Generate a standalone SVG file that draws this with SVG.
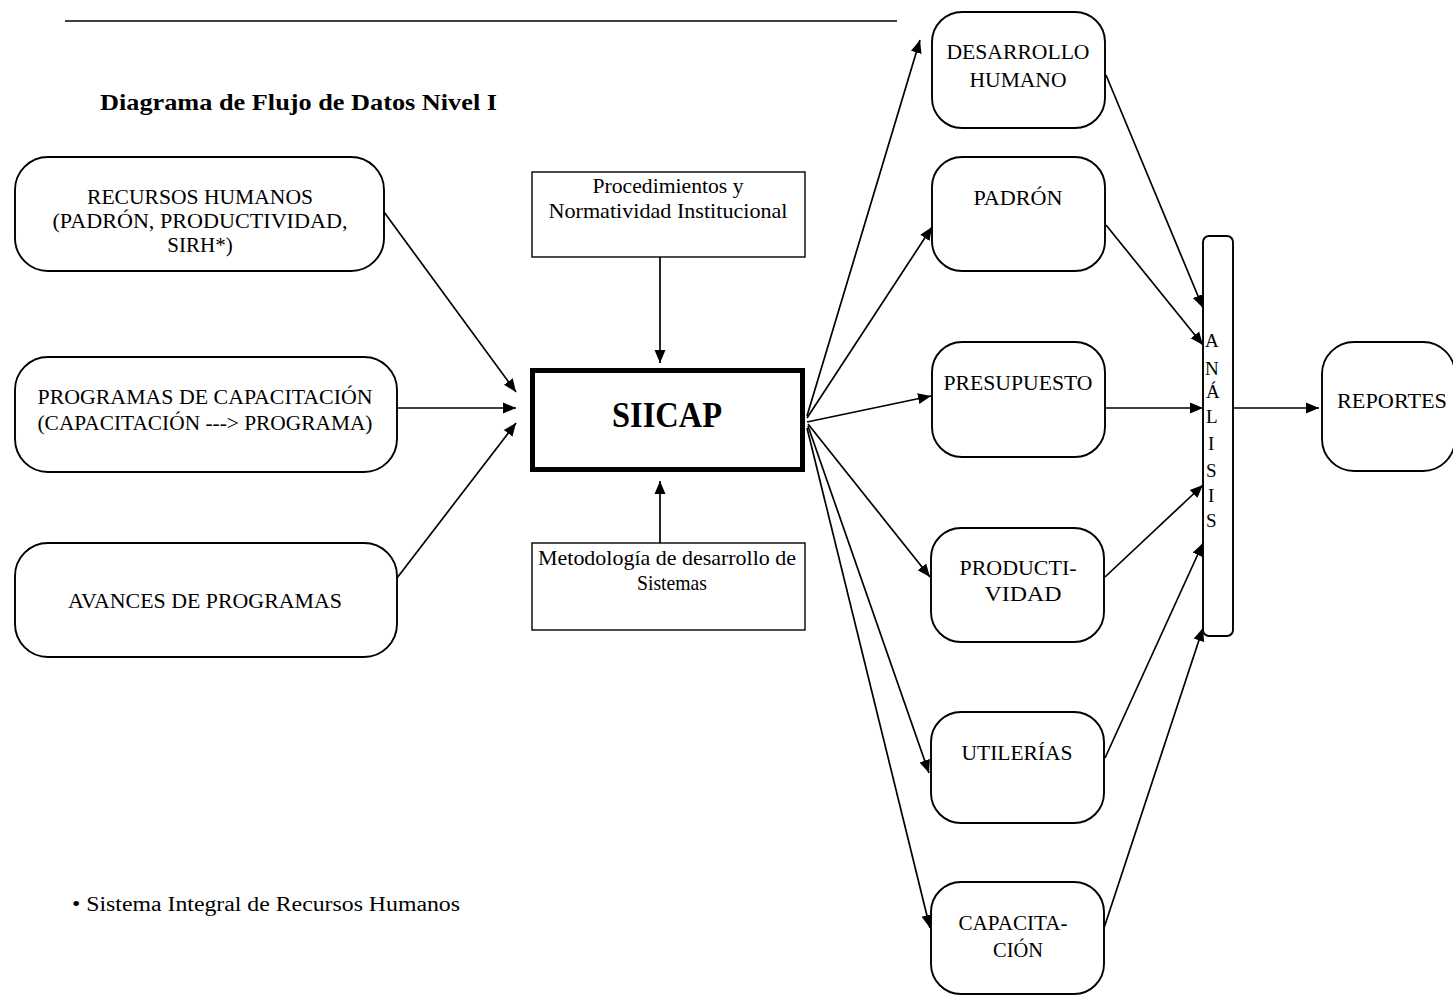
<svg xmlns="http://www.w3.org/2000/svg" width="1453" height="995" viewBox="0 0 1453 995">
<style>
.box{fill:#fff;stroke:#000;stroke-width:1.9}
.sq{fill:#fff;stroke:#000;stroke-width:1.4}
.t{font-family:"Liberation Serif",serif;fill:#000;text-anchor:middle}
.c{stroke:#000;stroke-width:1.7;fill:none;marker-end:url(#ah)}
</style>
<defs>
<marker id="ah" markerUnits="userSpaceOnUse" markerWidth="14" markerHeight="12" refX="13" refY="6" orient="auto">
<path d="M0,0.5 L13,6 L0,11.5 Z" fill="#000"/>
</marker>
</defs>
<rect width="1453" height="995" fill="#fff"/>
<line x1="65" y1="21" x2="897" y2="21" stroke="#000" stroke-width="1.7"/>
<text class="t" x="100" y="110" style="text-anchor:start;font-weight:bold;font-size:24px" textLength="397" lengthAdjust="spacingAndGlyphs">Diagrama de Flujo de Datos Nivel I</text>

<g id="recursos-humanos">
<rect class="box" x="15" y="157" width="369" height="114" rx="33"/>
<text class="t" x="200" y="204" font-size="21" textLength="226" lengthAdjust="spacingAndGlyphs">RECURSOS HUMANOS</text>
<text class="t" x="200" y="228" font-size="21" textLength="295" lengthAdjust="spacingAndGlyphs">(PADRÓN, PRODUCTIVIDAD,</text>
<text class="t" x="200" y="252" font-size="21">SIRH*)</text>
</g>
<g id="programas-capacitacion">
<rect class="box" x="15" y="357" width="382" height="115" rx="33"/>
<text class="t" x="205" y="404" font-size="21" textLength="335" lengthAdjust="spacingAndGlyphs">PROGRAMAS DE CAPACITACIÓN</text>
<text class="t" x="205" y="430" font-size="21" textLength="335" lengthAdjust="spacingAndGlyphs">(CAPACITACIÓN ---&gt; PROGRAMA)</text>
</g>
<g id="avances-programas">
<rect class="box" x="15" y="543" width="382" height="114" rx="33"/>
<text class="t" x="205" y="608" font-size="21" textLength="274" lengthAdjust="spacingAndGlyphs">AVANCES DE PROGRAMAS</text>
</g>

<g id="procedimientos">
<rect class="sq" x="532" y="172" width="273" height="85"/>
<text class="t" x="668" y="193" font-size="21" textLength="151" lengthAdjust="spacingAndGlyphs">Procedimientos y</text>
<text class="t" x="668" y="218" font-size="21" textLength="239" lengthAdjust="spacingAndGlyphs">Normatividad Institucional</text>
</g>
<g id="siicap">
<rect x="532.5" y="370.5" width="270" height="99" fill="#fff" stroke="#000" stroke-width="5"/>
<text class="t" x="667" y="427" font-size="35" font-weight="bold" textLength="110" lengthAdjust="spacingAndGlyphs">SIICAP</text>
</g>
<g id="metodologia">
<rect class="sq" x="532" y="543" width="273" height="87"/>
<text class="t" x="667" y="565" font-size="21" textLength="258" lengthAdjust="spacingAndGlyphs">Metodología de desarrollo de</text>
<text class="t" x="672" y="590" font-size="21" textLength="70" lengthAdjust="spacingAndGlyphs">Sistemas</text>
</g>

<g id="desarrollo-humano">
<rect class="box" x="932" y="12" width="173" height="116" rx="30"/>
<text class="t" x="1018" y="59" font-size="21" textLength="143" lengthAdjust="spacingAndGlyphs">DESARROLLO</text>
<text class="t" x="1018" y="87" font-size="21" textLength="97" lengthAdjust="spacingAndGlyphs">HUMANO</text>
</g>
<g id="padron">
<rect class="box" x="932" y="157" width="173" height="114" rx="30"/>
<text class="t" x="1018" y="205" font-size="21" textLength="89" lengthAdjust="spacingAndGlyphs">PADRÓN</text>
</g>
<g id="presupuesto">
<rect class="box" x="932" y="342" width="173" height="115" rx="30"/>
<text class="t" x="1018" y="390" font-size="21" textLength="149" lengthAdjust="spacingAndGlyphs">PRESUPUESTO</text>
</g>
<g id="productividad">
<rect class="box" x="931" y="528" width="173" height="114" rx="30"/>
<text class="t" x="1018" y="575" font-size="21" textLength="117" lengthAdjust="spacingAndGlyphs">PRODUCTI-</text>
<text class="t" x="1023" y="601" font-size="21" textLength="77" lengthAdjust="spacingAndGlyphs">VIDAD</text>
</g>
<g id="utilerias">
<rect class="box" x="931" y="712" width="173" height="111" rx="30"/>
<text class="t" x="1017" y="760" font-size="21" textLength="111" lengthAdjust="spacingAndGlyphs">UTILERÍAS</text>
</g>
<g id="capacitacion">
<rect class="box" x="931" y="882" width="173" height="112" rx="30"/>
<text class="t" x="1013" y="930" font-size="21" textLength="109" lengthAdjust="spacingAndGlyphs">CAPACITA-</text>
<text class="t" x="1018" y="957" font-size="21" textLength="50" lengthAdjust="spacingAndGlyphs">CIÓN</text>
</g>

<g id="analisis">
<rect class="box" x="1203" y="236" width="30" height="400" rx="6"/>
<g class="t" font-size="19" style="text-anchor:start">
<text x="1205" y="347">A</text>
<text x="1205" y="375">N</text>
<text x="1206" y="398">Á</text>
<text x="1206" y="423">L</text>
<text x="1208" y="450">I</text>
<text x="1206" y="477">S</text>
<text x="1208" y="502">I</text>
<text x="1206" y="527">S</text>
</g>
</g>
<g id="reportes">
<rect class="box" x="1322" y="342" width="133" height="129" rx="32"/>
<text class="t" x="1392" y="408" font-size="21" textLength="110" lengthAdjust="spacingAndGlyphs">REPORTES</text>
</g>

<g id="connectors">
<line class="c" x1="384" y1="212" x2="516" y2="392"/>
<line class="c" x1="397" y1="408" x2="516" y2="408"/>
<line class="c" x1="397" y1="578" x2="516" y2="423"/>
<line class="c" x1="660" y1="257" x2="660" y2="363"/>
<line class="c" x1="660" y1="543" x2="660" y2="481"/>
<line class="c" x1="807" y1="416" x2="920" y2="40"/>
<line class="c" x1="807" y1="418" x2="932" y2="227"/>
<line class="c" x1="807" y1="422" x2="931" y2="396"/>
<line class="c" x1="808" y1="424" x2="930" y2="577"/>
<line class="c" x1="808" y1="426" x2="929" y2="773"/>
<line class="c" x1="807" y1="428" x2="930" y2="928"/>
<line class="c" x1="1106" y1="75" x2="1203" y2="308"/>
<line class="c" x1="1106" y1="225" x2="1203" y2="345"/>
<line class="c" x1="1105" y1="408" x2="1203" y2="408"/>
<line class="c" x1="1105" y1="577" x2="1203" y2="485"/>
<line class="c" x1="1105" y1="758" x2="1203" y2="543"/>
<line class="c" x1="1104" y1="928" x2="1203" y2="628"/>
<line class="c" x1="1233" y1="408" x2="1319" y2="408"/>
</g>

<text class="t" x="72" y="911" font-size="20" style="text-anchor:start" textLength="388" lengthAdjust="spacingAndGlyphs">• Sistema Integral de Recursos Humanos</text>
</svg>
